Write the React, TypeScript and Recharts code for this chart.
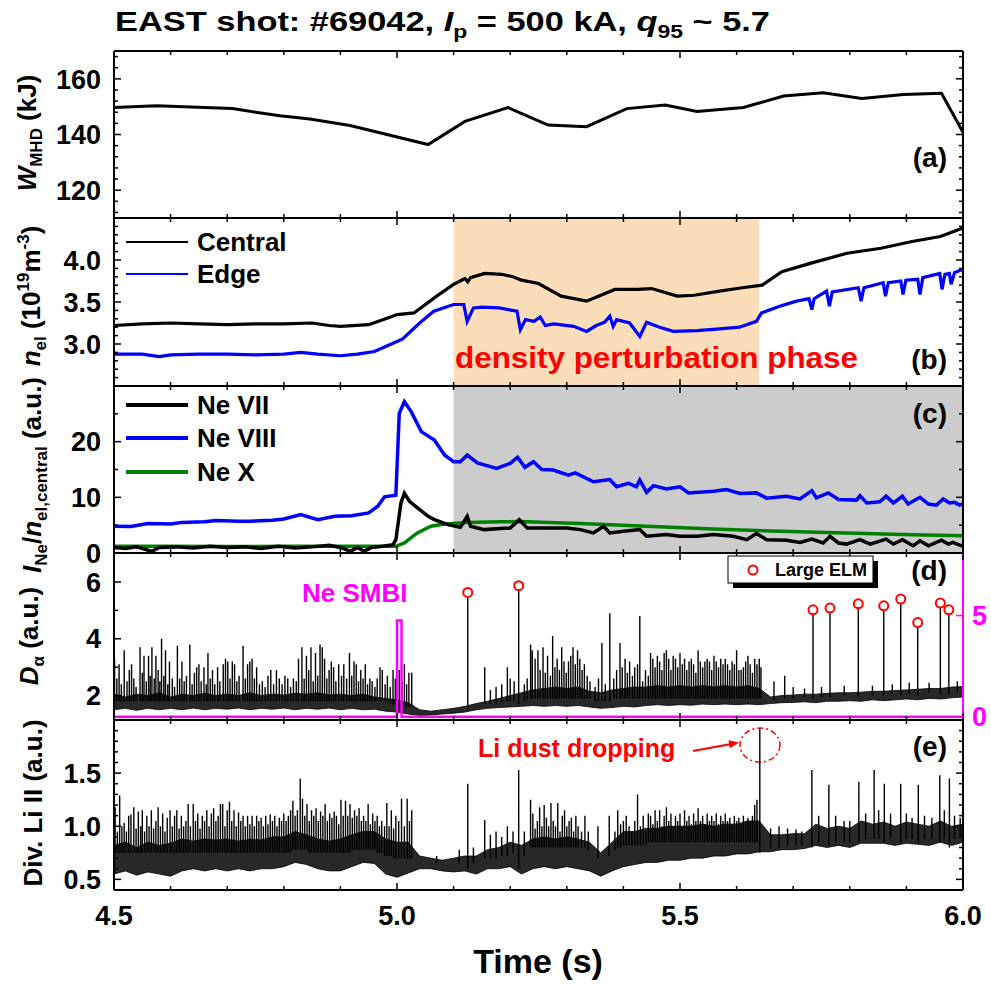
import React from 'react';
import { ComposedChart, Line, Area, XAxis, YAxis, ReferenceArea } from 'recharts';

const FONT = '"Liberation Sans", Arial, Helvetica, sans-serif';
const CW = 991;
const CH = 985;

// time axis
const xTicks = [4.5, 4.6, 4.7, 4.8, 4.9, 5.0, 5.1, 5.2, 5.3, 5.4, 5.5, 5.6, 5.7, 5.8, 5.9, 6.0];
const xMajors = [4.5, 5.0, 5.5, 6.0];

// (a) stored energy, kJ
const wmhd = [
  [4.5, 149.7], [4.575, 150.3], [4.709, 149.3], [4.793, 146.7], [4.846, 145.6], [4.917, 143.2],
  [5.055, 136.4], [5.12, 144.7], [5.196, 149.7], [5.267, 143.4], [5.335, 142.8], [5.406, 149.3],
  [5.474, 150.6], [5.53, 148.3], [5.612, 149.7], [5.683, 153.8], [5.753, 155.0], [5.821, 152.9],
  [5.895, 154.4], [5.962, 154.8], [6.0, 140.8],
];

// (b) line averaged density, 1e19 m^-3
const central = [
  [4.5, 3.22], [4.55, 3.24], [4.6, 3.25], [4.65, 3.24], [4.7, 3.23], [4.75, 3.24], [4.8, 3.24],
  [4.85, 3.25], [4.88, 3.22], [4.9, 3.21], [4.95, 3.23], [4.98, 3.3], [5.0, 3.35], [5.03, 3.37],
  [5.07, 3.57], [5.1, 3.71], [5.12, 3.78], [5.125, 3.74], [5.13, 3.79], [5.155, 3.84], [5.185, 3.83],
  [5.205, 3.8], [5.22, 3.76], [5.25, 3.72], [5.29, 3.57], [5.335, 3.51], [5.36, 3.58], [5.385, 3.65],
  [5.425, 3.65], [5.45, 3.66], [5.495, 3.57], [5.525, 3.58], [5.57, 3.63], [5.61, 3.67], [5.645, 3.7],
  [5.68, 3.86], [5.73, 3.96], [5.795, 4.08], [5.855, 4.14], [5.91, 4.22], [5.96, 4.28], [6.0, 4.38],
];
const edge = [
  [4.5, 2.88], [4.55, 2.88], [4.58, 2.85], [4.6, 2.87], [4.65, 2.88], [4.7, 2.88], [4.75, 2.87],
  [4.8, 2.88], [4.83, 2.9], [4.86, 2.88], [4.9, 2.86], [4.93, 2.88], [4.96, 2.91], [4.98, 2.97],
  [5.0, 3.03], [5.01, 3.06], [5.04, 3.25], [5.065, 3.39], [5.1, 3.47], [5.118, 3.47], [5.124, 3.27],
  [5.135, 3.43], [5.15, 3.44], [5.18, 3.43], [5.212, 3.39], [5.218, 3.17], [5.227, 3.29], [5.242, 3.27],
  [5.253, 3.32], [5.262, 3.22], [5.277, 3.24], [5.312, 3.21], [5.335, 3.15], [5.352, 3.22], [5.367, 3.26],
  [5.376, 3.33], [5.382, 3.21], [5.388, 3.29], [5.411, 3.25], [5.429, 3.09], [5.441, 3.26], [5.464, 3.2],
  [5.488, 3.15], [5.53, 3.16], [5.57, 3.18], [5.605, 3.2], [5.635, 3.27], [5.644, 3.37], [5.676, 3.45],
  [5.706, 3.51], [5.728, 3.54], [5.733, 3.41], [5.737, 3.54], [5.759, 3.63], [5.764, 3.45], [5.769, 3.62],
  [5.815, 3.67], [5.82, 3.51], [5.825, 3.67], [5.859, 3.73], [5.863, 3.57], [5.868, 3.73], [5.89, 3.75],
  [5.894, 3.59], [5.899, 3.76], [5.92, 3.77], [5.924, 3.59], [5.929, 3.79], [5.959, 3.84], [5.963, 3.65],
  [5.968, 3.83], [5.976, 3.84], [5.979, 3.71], [5.985, 3.85], [6.0, 3.89],
];

// (c) Ne line emission normalised by central density
const ne7 = [
  [4.5, 1.0], [4.52, 0.8], [4.54, 1.1], [4.567, 0.3], [4.58, 1.0], [4.61, 1.1], [4.64, 0.9], [4.67, 1.2],
  [4.7, 1.0], [4.73, 1.1], [4.76, 0.8], [4.79, 1.2], [4.82, 0.9], [4.85, 1.1], [4.88, 1.4], [4.9, 1.0],
  [4.918, 0.3], [4.93, 1.0], [4.942, 0.3], [4.955, 1.0], [4.975, 1.2], [4.993, 1.5], [4.998, 2.4],
  [5.007, 9.0], [5.013, 10.75], [5.022, 9.3], [5.034, 8.3], [5.055, 6.6], [5.066, 6.0], [5.09, 5.1],
  [5.112, 4.6], [5.124, 6.6], [5.13, 4.8], [5.154, 4.2], [5.183, 4.4], [5.2, 4.5], [5.216, 6.0],
  [5.23, 4.5], [5.265, 4.5], [5.3, 4.5], [5.324, 4.2], [5.347, 3.6], [5.365, 4.8], [5.376, 3.6],
  [5.4, 3.9], [5.429, 4.2], [5.441, 3.0], [5.476, 3.3], [5.5, 3.0], [5.53, 3.0], [5.559, 3.3],
  [5.594, 3.0], [5.618, 2.4], [5.635, 3.5], [5.653, 2.4], [5.688, 2.3], [5.712, 1.9], [5.733, 2.5],
  [5.753, 1.8], [5.765, 3.0], [5.78, 1.8], [5.794, 1.6], [5.818, 2.4], [5.836, 1.6], [5.864, 2.5],
  [5.877, 1.6], [5.893, 2.4], [5.912, 1.3], [5.924, 2.2], [5.939, 1.3], [5.962, 2.3], [5.974, 1.6],
  [5.982, 1.9], [5.997, 1.3], [6.0, 1.4],
];
const ne8 = [
  [4.5, 4.8], [4.53, 4.77], [4.56, 5.3], [4.6, 5.2], [4.62, 5.5], [4.66, 5.6], [4.68, 5.85], [4.72, 5.7],
  [4.74, 5.7], [4.78, 5.9], [4.8, 6.1], [4.83, 6.9], [4.86, 6.0], [4.89, 6.6], [4.92, 6.7], [4.95, 7.2],
  [4.966, 8.4], [4.978, 10.1], [4.998, 10.4], [5.004, 25.1], [5.013, 27.2], [5.025, 25.4], [5.043, 21.8],
  [5.066, 20.3], [5.084, 17.6], [5.1, 16.4], [5.112, 16.4], [5.124, 17.6], [5.142, 16.2], [5.159, 15.7],
  [5.176, 15.2], [5.2, 16.1], [5.213, 17.2], [5.226, 15.4], [5.241, 16.4], [5.256, 15.0], [5.276, 14.9],
  [5.303, 14.0], [5.315, 14.4], [5.347, 12.8], [5.376, 13.2], [5.388, 11.9], [5.409, 12.5], [5.423, 11.9],
  [5.429, 13.1], [5.441, 10.9], [5.453, 12.1], [5.476, 11.5], [5.5, 11.9], [5.515, 10.8], [5.559, 11.1],
  [5.582, 11.4], [5.606, 10.7], [5.635, 10.8], [5.653, 9.85], [5.688, 10.2], [5.712, 9.7], [5.733, 11.2],
  [5.741, 9.9], [5.762, 10.8], [5.78, 9.6], [5.812, 9.5], [5.818, 10.3], [5.83, 9.0], [5.853, 9.2],
  [5.864, 10.2], [5.877, 9.0], [5.893, 10.2], [5.903, 8.8], [5.924, 10.0], [5.939, 8.8], [5.953, 8.6],
  [5.965, 9.7], [5.976, 9.0], [5.985, 9.1], [5.994, 8.6], [6.0, 8.8],
];
const ne10 = [
  [4.5, 1.2], [4.6, 1.2], [4.7, 1.15], [4.8, 1.2], [4.9, 1.2], [4.998, 1.2], [5.013, 1.8], [5.036, 3.6],
  [5.06, 4.8], [5.084, 5.2], [5.124, 5.5], [5.183, 5.6], [5.216, 5.67], [5.324, 5.3], [5.441, 4.8],
  [5.559, 4.3], [5.676, 3.9], [5.794, 3.6], [5.912, 3.3], [6.0, 3.1],
];

// dense background of the fast signals: low / high envelope every 20 ms
const bandTimes = [
  4.5, 4.52, 4.54, 4.56, 4.58, 4.6, 4.62, 4.64, 4.66, 4.68, 4.7, 4.72, 4.74, 4.76, 4.78, 4.8,
  4.82, 4.84, 4.86, 4.88, 4.9, 4.92, 4.94, 4.96, 4.98, 5.0, 5.02, 5.04, 5.06, 5.08, 5.1, 5.12,
  5.14, 5.16, 5.18, 5.2, 5.22, 5.24, 5.26, 5.28, 5.3, 5.32, 5.34, 5.36, 5.38, 5.4, 5.42, 5.44,
  5.46, 5.48, 5.5, 5.52, 5.54, 5.56, 5.58, 5.6, 5.62, 5.64, 5.66, 5.68, 5.7, 5.72, 5.74, 5.76,
  5.78, 5.8, 5.82, 5.84, 5.86, 5.88, 5.9, 5.92, 5.94, 5.96, 5.98, 6.0,
];
const dAlphaLo = [
  1.5, 1.55, 1.48, 1.55, 1.5, 1.55, 1.5, 1.56, 1.5, 1.55, 1.52, 1.56, 1.5, 1.55, 1.52, 1.56,
  1.5, 1.55, 1.52, 1.56, 1.5, 1.55, 1.5, 1.52, 1.45, 1.42, 1.35, 1.3, 1.32, 1.35, 1.38, 1.42,
  1.5, 1.55, 1.58, 1.6, 1.62, 1.65, 1.62, 1.65, 1.62, 1.65, 1.6, 1.55, 1.58, 1.62, 1.6, 1.65,
  1.68, 1.65, 1.68, 1.66, 1.7, 1.68, 1.7, 1.68, 1.7, 1.68, 1.72, 1.75, 1.76, 1.78, 1.75, 1.8,
  1.8, 1.82, 1.8, 1.85, 1.82, 1.85, 1.88, 1.85, 1.9, 1.88, 1.92, 1.95,
];
const dAlphaHi = [
  2.05, 1.95, 2.05, 2.0, 2.1, 1.95, 2.05, 2.0, 2.08, 2.0, 2.05, 2.0, 2.1, 2.0, 2.05, 2.02,
  2.08, 2.05, 2.1, 2.02, 2.05, 2.0, 2.05, 1.95, 1.9, 1.85, 1.75, 1.5, 1.45, 1.5, 1.55, 1.62,
  1.72, 1.8, 1.9, 2.0, 2.1, 2.2, 2.25, 2.3, 2.25, 2.3, 2.15, 2.1, 2.2, 2.25, 2.3, 2.3,
  2.35, 2.3, 2.35, 2.3, 2.35, 2.3, 2.35, 2.3, 2.35, 2.25, 1.95, 2.0, 2.02, 2.05, 2.05, 2.08,
  2.1, 2.1, 2.12, 2.15, 2.15, 2.18, 2.2, 2.22, 2.25, 2.25, 2.3, 2.32,
];
const liLo = [
  0.55, 0.58, 0.54, 0.57, 0.55, 0.53, 0.58, 0.6, 0.58, 0.6, 0.58, 0.6, 0.58, 0.6, 0.6, 0.62,
  0.66, 0.64, 0.6, 0.58, 0.58, 0.62, 0.66, 0.65, 0.55, 0.52, 0.56, 0.6, 0.6, 0.58, 0.57, 0.58,
  0.55, 0.6, 0.6, 0.62, 0.55, 0.6, 0.62, 0.6, 0.62, 0.6, 0.58, 0.53, 0.58, 0.62, 0.64, 0.66,
  0.66, 0.68, 0.68, 0.7, 0.7, 0.72, 0.72, 0.74, 0.74, 0.76, 0.76, 0.78, 0.78, 0.79, 0.82, 0.8,
  0.82, 0.8, 0.84, 0.84, 0.84, 0.82, 0.84, 0.83, 0.82, 0.85, 0.82, 0.85,
];
const liHi = [
  0.82, 0.85, 0.8, 0.85, 0.82, 0.84, 0.88, 0.86, 0.88, 0.87, 0.88, 0.86, 0.88, 0.87, 0.9, 0.9,
  0.95, 0.92, 0.88, 0.86, 0.88, 0.92, 0.95, 0.95, 0.88, 0.85, 0.85, 0.72, 0.7, 0.68, 0.7, 0.72,
  0.72, 0.78, 0.8, 0.85, 0.82, 0.88, 0.9, 0.88, 0.9, 0.88, 0.85, 0.75, 0.85, 0.95, 0.95, 0.98,
  0.98, 1.0, 1.0, 1.0, 1.02, 1.0, 1.02, 1.02, 1.05, 1.05, 0.92, 0.92, 0.93, 0.93, 1.02, 0.98,
  1.0, 0.98, 1.05, 1.02, 1.04, 1.0, 1.04, 1.02, 1.0, 1.05, 1.0, 1.02,
];

// spikes of the fast signals: [time, base, peak]
const dAlphaSpikes = [
  [4.501, 1.8, 3.3], [4.505, 1.8, 2.6], [4.509, 1.8, 3.1], [4.513, 1.8, 2.4], [4.518, 1.8, 3.6],
  [4.523, 1.8, 2.5], [4.527, 1.8, 2.9], [4.531, 1.8, 3.1], [4.535, 1.8, 2.6], [4.539, 1.8, 2.3],
  [4.546, 1.8, 3.7], [4.55, 1.8, 2.8], [4.553, 1.8, 3.4], [4.557, 1.8, 2.5], [4.561, 1.8, 3.4],
  [4.564, 1.8, 2.7], [4.567, 1.8, 3.7], [4.571, 1.8, 2.6], [4.574, 1.8, 3.4], [4.578, 1.8, 2.9],
  [4.581, 1.8, 2.5], [4.584, 1.8, 4.0], [4.588, 1.8, 2.7], [4.591, 1.8, 3.6], [4.595, 1.8, 2.4],
  [4.598, 1.8, 3.2], [4.603, 1.8, 2.6], [4.607, 1.8, 2.3], [4.612, 1.8, 3.75], [4.616, 1.8, 2.6],
  [4.62, 1.8, 3.2], [4.624, 1.8, 2.5], [4.628, 1.8, 2.7], [4.634, 1.8, 3.8], [4.638, 1.8, 2.4],
  [4.642, 1.8, 2.8], [4.646, 1.8, 3.0], [4.65, 1.8, 3.1], [4.654, 1.8, 2.5], [4.659, 1.8, 3.0],
  [4.663, 1.8, 2.4], [4.666, 1.8, 3.5], [4.67, 1.8, 2.6], [4.674, 1.8, 2.9], [4.678, 1.8, 2.4],
  [4.683, 1.8, 3.0], [4.687, 1.8, 2.5], [4.693, 1.8, 3.1], [4.697, 1.8, 3.3], [4.701, 1.8, 3.2],
  [4.705, 1.8, 2.6], [4.709, 1.8, 3.2], [4.713, 1.8, 3.1], [4.717, 1.8, 2.5], [4.721, 1.8, 2.7],
  [4.728, 1.8, 3.75], [4.732, 1.8, 2.6], [4.736, 1.8, 3.1], [4.74, 1.8, 3.2], [4.744, 1.8, 3.3],
  [4.748, 1.8, 2.6], [4.752, 1.8, 3.0], [4.757, 1.8, 2.4], [4.762, 1.8, 2.5], [4.767, 1.8, 2.3],
  [4.772, 1.8, 2.7], [4.777, 1.8, 2.9], [4.782, 1.8, 2.4], [4.787, 1.8, 2.9], [4.792, 1.8, 2.6],
  [4.797, 1.8, 2.4], [4.802, 1.8, 2.7], [4.807, 1.8, 2.6], [4.812, 1.8, 2.3], [4.817, 1.8, 2.6],
  [4.822, 1.8, 2.5], [4.826, 1.8, 3.3], [4.832, 1.8, 3.7], [4.836, 1.8, 2.6], [4.84, 1.8, 3.4],
  [4.844, 1.8, 2.9], [4.848, 1.8, 3.7], [4.852, 1.8, 2.5], [4.856, 1.8, 3.5], [4.86, 1.8, 2.7],
  [4.864, 1.8, 3.8], [4.868, 1.8, 3.7], [4.872, 1.8, 3.3], [4.876, 1.8, 2.6], [4.88, 1.8, 2.9],
  [4.884, 1.8, 3.2], [4.888, 1.8, 3.0], [4.892, 1.8, 2.5], [4.897, 1.8, 3.1], [4.902, 1.8, 2.7],
  [4.906, 1.8, 3.1], [4.911, 1.8, 2.6], [4.916, 1.8, 3.5], [4.92, 1.8, 2.7], [4.924, 1.8, 3.2],
  [4.928, 1.8, 3.1], [4.932, 1.8, 2.5], [4.936, 1.8, 2.9], [4.94, 1.8, 2.6], [4.944, 1.8, 3.1],
  [4.948, 1.8, 2.4], [4.952, 1.8, 2.6], [4.956, 1.8, 2.5], [4.961, 1.8, 2.3], [4.965, 1.8, 2.6],
  [4.97, 1.8, 3.0], [4.974, 1.8, 2.9], [4.979, 1.8, 2.4], [4.983, 1.8, 2.7], [4.988, 1.7, 2.3],
  [4.993, 1.7, 2.9], [4.997, 1.7, 2.6], [5.004, 1.6, 2.9], [5.009, 1.6, 2.5], [5.013, 1.6, 3.1],
  [5.017, 1.6, 2.4], [5.021, 1.6, 2.8], [5.026, 1.6, 2.8],
  [5.125, 1.5, 5.5], [5.155, 1.7, 3.0], [5.165, 1.7, 2.2], [5.175, 1.7, 2.3], [5.185, 1.75, 2.4],
  [5.195, 1.8, 3.0], [5.2, 1.8, 2.6], [5.207, 1.8, 2.5], [5.215, 1.7, 5.75], [5.225, 1.8, 2.4],
  [5.23, 1.85, 2.6], [5.236, 1.9, 3.8], [5.239, 1.9, 3.6], [5.244, 1.9, 3.3], [5.249, 1.9, 3.6],
  [5.253, 1.9, 2.9], [5.258, 1.9, 3.7], [5.262, 1.9, 2.8], [5.266, 1.9, 3.4], [5.271, 1.9, 2.7],
  [5.275, 1.9, 4.1], [5.279, 1.9, 3.0], [5.283, 1.9, 3.3], [5.287, 1.9, 2.9], [5.291, 1.9, 3.7],
  [5.295, 1.9, 3.2], [5.299, 1.9, 2.8], [5.303, 1.9, 3.2], [5.307, 1.9, 3.4], [5.311, 1.9, 3.7],
  [5.315, 1.9, 3.1], [5.319, 1.9, 3.6], [5.323, 1.9, 3.3], [5.327, 1.9, 2.9], [5.331, 1.9, 3.1],
  [5.336, 1.9, 2.7], [5.341, 1.9, 2.5], [5.35, 1.8, 2.3], [5.356, 1.8, 2.6], [5.362, 1.8, 3.85],
  [5.368, 1.8, 2.4], [5.376, 1.8, 4.9], [5.383, 1.9, 2.6], [5.388, 1.9, 2.9], [5.394, 1.9, 3.85],
  [5.398, 1.9, 3.0], [5.403, 1.9, 3.3], [5.407, 1.9, 2.8], [5.411, 1.9, 3.2], [5.416, 1.9, 2.7],
  [5.42, 1.9, 3.0], [5.425, 1.9, 3.1], [5.429, 1.9, 4.8], [5.434, 1.9, 2.5], [5.439, 1.9, 2.9],
  [5.444, 1.9, 2.7], [5.448, 1.9, 3.5], [5.452, 1.9, 3.3], [5.456, 1.9, 3.0], [5.46, 1.9, 3.4],
  [5.464, 1.9, 3.2], [5.468, 1.9, 2.9], [5.472, 1.9, 3.5], [5.476, 1.9, 3.6], [5.48, 1.9, 3.3],
  [5.484, 1.9, 2.9], [5.488, 1.9, 3.4], [5.492, 1.9, 3.3], [5.496, 1.9, 3.0], [5.5, 1.9, 3.5],
  [5.504, 1.9, 3.1], [5.508, 1.9, 3.3], [5.512, 1.9, 2.9], [5.516, 1.9, 3.2], [5.52, 1.9, 3.3],
  [5.524, 1.9, 3.1], [5.528, 1.9, 2.8], [5.532, 1.9, 3.6], [5.536, 1.9, 3.2], [5.54, 1.9, 3.0],
  [5.544, 1.9, 3.2], [5.548, 1.9, 3.3], [5.552, 1.9, 3.2], [5.556, 1.9, 2.9], [5.56, 1.9, 3.4],
  [5.564, 1.9, 3.2], [5.568, 1.9, 3.0], [5.572, 1.9, 3.3], [5.576, 1.9, 3.1], [5.58, 1.9, 3.3],
  [5.584, 1.9, 3.1], [5.588, 1.9, 2.9], [5.592, 1.9, 3.2], [5.596, 1.9, 3.1], [5.6, 1.9, 3.6],
  [5.604, 1.9, 2.9], [5.608, 1.9, 2.9], [5.612, 1.9, 3.0], [5.616, 1.9, 3.2], [5.62, 1.9, 3.4],
  [5.624, 1.9, 3.1], [5.628, 1.9, 2.8], [5.632, 1.9, 3.3], [5.636, 1.9, 3.1], [5.64, 1.9, 3.3],
  [5.643, 1.9, 3.0],
  [5.666, 1.85, 2.5], [5.685, 1.9, 2.7], [5.7, 1.9, 2.3], [5.72, 1.95, 2.25], [5.735, 1.9, 4.9],
  [5.75, 1.95, 2.3], [5.765, 1.95, 4.95], [5.79, 2.0, 2.35], [5.815, 1.95, 5.1], [5.84, 2.0, 2.35],
  [5.86, 2.0, 5.0], [5.875, 2.05, 2.4], [5.89, 2.0, 5.25], [5.905, 2.05, 2.45], [5.92, 2.0, 4.4],
  [5.94, 2.1, 2.45], [5.96, 2.05, 5.1], [5.975, 2.05, 4.85], [5.99, 2.15, 2.5],
];
const liSpikes = [
  [4.502, 0.75, 1.18], [4.506, 0.75, 0.95], [4.51, 0.75, 1.29], [4.514, 0.75, 1.0], [4.518, 0.75, 1.03],
  [4.522, 0.75, 0.95], [4.526, 0.75, 1.1], [4.53, 0.75, 1.11], [4.535, 0.75, 1.18], [4.539, 0.75, 0.98],
  [4.543, 0.75, 1.14], [4.547, 0.75, 1.0], [4.55, 0.75, 1.15], [4.554, 0.75, 0.95], [4.558, 0.75, 1.1],
  [4.562, 0.75, 1.0], [4.566, 0.75, 1.15], [4.57, 0.75, 0.98], [4.574, 0.75, 1.05], [4.578, 0.75, 1.18],
  [4.582, 0.75, 1.0], [4.586, 0.75, 1.12], [4.59, 0.75, 0.95], [4.594, 0.75, 1.08], [4.599, 0.75, 1.15],
  [4.603, 0.75, 1.0], [4.607, 0.75, 1.1], [4.611, 0.75, 1.15], [4.615, 0.75, 0.98], [4.619, 0.75, 1.1],
  [4.623, 0.75, 1.0], [4.627, 0.75, 1.05], [4.631, 0.75, 1.21], [4.635, 0.75, 1.0], [4.64, 0.75, 1.21],
  [4.644, 0.75, 1.05], [4.648, 0.75, 1.12], [4.652, 0.75, 0.98], [4.656, 0.75, 1.1], [4.66, 0.75, 1.05],
  [4.664, 0.75, 1.15], [4.668, 0.75, 1.0], [4.672, 0.75, 1.12], [4.676, 0.75, 1.17], [4.68, 0.75, 1.05],
  [4.684, 0.75, 1.1], [4.688, 0.75, 1.21], [4.692, 0.75, 1.21], [4.696, 0.75, 1.0], [4.7, 0.75, 1.15],
  [4.704, 0.75, 1.23], [4.708, 0.75, 1.05], [4.712, 0.75, 1.15], [4.716, 0.75, 1.0], [4.72, 0.75, 1.13],
  [4.724, 0.75, 1.05], [4.728, 0.75, 1.1], [4.732, 0.75, 1.0], [4.736, 0.75, 1.1], [4.74, 0.75, 1.02],
  [4.744, 0.75, 1.1], [4.748, 0.75, 1.0], [4.752, 0.75, 1.1], [4.756, 0.75, 1.05], [4.76, 0.75, 1.08],
  [4.764, 0.75, 1.0], [4.768, 0.75, 1.1], [4.772, 0.75, 1.02], [4.776, 0.75, 1.11], [4.78, 0.75, 1.05],
  [4.784, 0.75, 1.1], [4.788, 0.75, 1.0], [4.792, 0.75, 1.08], [4.796, 0.75, 1.05], [4.8, 0.75, 1.12],
  [4.804, 0.75, 1.05], [4.808, 0.75, 1.1], [4.812, 0.75, 1.15], [4.816, 0.78, 1.24], [4.82, 0.78, 1.1],
  [4.824, 0.78, 1.15], [4.829, 0.78, 1.45], [4.833, 0.78, 1.26], [4.837, 0.78, 1.1], [4.841, 0.78, 1.21],
  [4.845, 0.75, 1.05], [4.849, 0.75, 1.15], [4.853, 0.75, 1.1], [4.857, 0.75, 1.17], [4.861, 0.75, 1.05],
  [4.865, 0.75, 1.14], [4.869, 0.75, 1.1], [4.873, 0.75, 1.21], [4.877, 0.75, 1.05], [4.881, 0.75, 1.12],
  [4.885, 0.75, 1.08], [4.889, 0.75, 1.14], [4.893, 0.75, 1.1], [4.897, 0.75, 1.02], [4.901, 0.75, 1.25],
  [4.905, 0.75, 1.1], [4.909, 0.75, 1.24], [4.913, 0.75, 1.1], [4.917, 0.75, 1.21], [4.921, 0.78, 1.08],
  [4.925, 0.78, 1.15], [4.929, 0.78, 1.1], [4.933, 0.78, 1.17], [4.937, 0.78, 1.05], [4.941, 0.78, 1.1],
  [4.945, 0.78, 1.05], [4.949, 0.78, 1.21], [4.953, 0.78, 1.02], [4.957, 0.78, 1.12], [4.961, 0.78, 1.05],
  [4.965, 0.75, 1.1], [4.969, 0.75, 1.0], [4.973, 0.75, 1.05], [4.978, 0.72, 1.0], [4.982, 0.72, 1.22],
  [4.986, 0.72, 1.0], [4.99, 0.72, 1.15], [4.994, 0.7, 0.98], [4.998, 0.7, 1.1], [5.003, 0.7, 1.05],
  [5.008, 0.7, 1.26], [5.013, 0.7, 1.0], [5.018, 0.7, 1.26], [5.022, 0.7, 1.05], [5.026, 0.7, 1.15],
  [5.07, 0.65, 0.72], [5.11, 0.65, 0.78], [5.125, 0.6, 1.4], [5.135, 0.65, 0.8], [5.155, 0.7, 1.06],
  [5.165, 0.7, 0.92], [5.175, 0.7, 0.95], [5.185, 0.72, 0.9], [5.195, 0.72, 1.0], [5.205, 0.75, 0.95],
  [5.215, 0.6, 1.53], [5.225, 0.72, 0.95], [5.236, 0.8, 1.25], [5.24, 0.8, 1.12], [5.244, 0.8, 0.98],
  [5.248, 0.8, 1.05], [5.252, 0.8, 1.18], [5.256, 0.8, 1.0], [5.26, 0.8, 1.2], [5.264, 0.8, 1.08],
  [5.268, 0.8, 1.0], [5.272, 0.8, 1.22], [5.276, 0.8, 1.05], [5.28, 0.8, 1.0], [5.284, 0.8, 1.22],
  [5.288, 0.8, 0.95], [5.292, 0.8, 1.1], [5.296, 0.8, 1.15], [5.3, 0.8, 1.0], [5.304, 0.8, 1.05],
  [5.308, 0.8, 1.08], [5.312, 0.8, 0.95], [5.316, 0.8, 1.1], [5.32, 0.8, 1.0], [5.326, 0.8, 0.95],
  [5.332, 0.8, 1.1], [5.338, 0.78, 0.95], [5.355, 0.7, 1.0], [5.375, 0.72, 1.1], [5.385, 0.78, 0.95],
  [5.39, 0.8, 1.15], [5.395, 0.8, 1.02], [5.4, 0.82, 1.05], [5.405, 0.82, 1.1], [5.41, 0.82, 1.0],
  [5.415, 0.82, 0.95], [5.42, 0.82, 1.05], [5.425, 0.82, 1.3], [5.43, 0.82, 1.0], [5.435, 0.82, 1.1],
  [5.44, 0.82, 0.95], [5.444, 0.85, 1.12], [5.448, 0.85, 1.1], [5.452, 0.85, 1.02], [5.456, 0.85, 1.15],
  [5.46, 0.85, 1.05], [5.464, 0.85, 1.15], [5.468, 0.85, 1.0], [5.472, 0.85, 1.1], [5.476, 0.85, 1.18],
  [5.48, 0.85, 1.05], [5.484, 0.85, 1.12], [5.488, 0.85, 1.0], [5.492, 0.85, 1.1], [5.496, 0.85, 1.05],
  [5.5, 0.85, 1.12], [5.504, 0.85, 1.0], [5.508, 0.85, 1.15], [5.512, 0.85, 1.05], [5.516, 0.85, 1.1],
  [5.52, 0.85, 1.02], [5.524, 0.85, 1.12], [5.528, 0.85, 1.05], [5.532, 0.85, 1.17], [5.536, 0.85, 1.05],
  [5.54, 0.85, 1.1], [5.544, 0.85, 1.02], [5.548, 0.85, 1.12], [5.552, 0.85, 1.05], [5.556, 0.85, 1.1],
  [5.56, 0.85, 1.05], [5.564, 0.85, 1.12], [5.568, 0.85, 1.02], [5.572, 0.85, 1.1], [5.576, 0.85, 1.05],
  [5.58, 0.85, 1.12], [5.584, 0.85, 1.05], [5.588, 0.85, 1.08], [5.592, 0.85, 1.02], [5.596, 0.85, 1.1],
  [5.6, 0.85, 1.05], [5.604, 0.85, 1.08], [5.608, 0.85, 1.02], [5.612, 0.85, 1.1], [5.616, 0.85, 1.05],
  [5.62, 0.85, 1.08], [5.624, 0.85, 1.05], [5.628, 0.85, 1.1], [5.632, 0.85, 1.2], [5.636, 0.85, 1.25],
  [5.641, 0.75, 1.92], [5.66, 0.8, 0.98], [5.675, 0.8, 1.0], [5.69, 0.82, 0.98], [5.705, 0.82, 0.97],
  [5.715, 0.82, 0.95], [5.733, 0.8, 1.53], [5.745, 0.85, 1.1], [5.763, 0.82, 1.39], [5.775, 0.85, 1.1],
  [5.79, 0.85, 1.05], [5.8, 0.85, 1.05], [5.816, 0.85, 1.42], [5.828, 0.88, 1.12], [5.843, 0.88, 1.53],
  [5.851, 0.88, 1.15], [5.861, 0.85, 1.4], [5.872, 0.88, 1.12], [5.89, 0.85, 1.4], [5.9, 0.88, 1.12],
  [5.91, 0.88, 1.08], [5.921, 0.85, 1.39], [5.932, 0.88, 1.1], [5.945, 0.88, 1.08], [5.959, 0.85, 1.48],
  [5.967, 0.88, 1.15], [5.976, 0.8, 1.45], [5.985, 0.88, 1.1], [5.995, 0.9, 1.08],
];

// Ne SMBI valve signal (right axis of panel d)
const smbi = [[4.5, 0], [5.0, 0], [5.0, 4.75], [5.008, 4.75], [5.008, 0], [6.0, 0]];
// large ELM peaks
const largeElm = [
  [5.125, 5.63], [5.215, 5.87], [5.735, 5.02], [5.765, 5.08], [5.815, 5.23],
  [5.86, 5.16], [5.89, 5.4], [5.92, 4.57], [5.96, 5.26], [5.975, 5.02],
];

const pts = (arr: number[][]) => arr.map(([t, v]) => ({ t, v }));
const band = (lo: number[], hi: number[]) => bandTimes.map((t, i) => ({ t, band: [lo[i], hi[i]] }));
// each spike is its own vertical segment, separated by gaps
const spikes = (arr: number[][]) =>
  arr.flatMap(([t, base, peak]) => [
    { t, v: base },
    { t, v: peak },
    { t, v: null },
  ]);

const near = (v: number, list: number[]) => list.some((m) => Math.abs(m - v) < 1e-6);
const AXIS_LINE = { stroke: '#000', strokeWidth: 2 };

function yTick(side: 'left' | 'right', majors: number[], labels: boolean, color: string, fmt: (v: number) => string) {
  return (p: any) => {
    const v = p.payload.value;
    const major = near(v, majors);
    const len = major ? 7 : 4;
    const dir = side === 'left' ? 1 : -1;
    return (
      <g>
        <line x1={p.x} y1={p.y} x2={p.x + dir * len} y2={p.y} stroke={color} strokeWidth={1.5} />
        {labels && major ? (
          <text
            x={side === 'left' ? p.x - 13 : p.x + 9}
            y={p.y}
            dy="0.36em"
            textAnchor={side === 'left' ? 'end' : 'start'}
            fontFamily={FONT}
            fontWeight="bold"
            fontSize={27}
            fill={color}
          >
            {fmt(v)}
          </text>
        ) : null}
      </g>
    );
  };
}

function xTick(side: 'top' | 'bottom', labels: boolean) {
  return (p: any) => {
    const v = p.payload.value;
    const major = near(v, xMajors);
    const len = major ? 7 : 4;
    const dir = side === 'bottom' ? -1 : 1;
    return (
      <g>
        <line x1={p.x} y1={p.y} x2={p.x} y2={p.y + dir * len} stroke="#000" strokeWidth={1.5} />
        {labels && major ? (
          <text x={p.x} y={p.y + 25} dy="0.36em" textAnchor="middle" fontFamily={FONT} fontWeight="bold" fontSize={27}>
            {v.toFixed(1)}
          </text>
        ) : null}
      </g>
    );
  };
}

type RightAxis = { domain: number[]; ticks: number[]; majors: number[]; color: string; labels: boolean };

function Panel(props: {
  top: number;
  bottom: number;
  yDomain: number[];
  yTicks: number[];
  yMajors: number[];
  fmt: (v: number) => string;
  xLabels?: boolean;
  right?: RightAxis;
  children?: React.ReactNode;
}) {
  const { top, bottom, yDomain, yTicks, yMajors, fmt, xLabels = false, right, children } = props;
  const r = right ?? { domain: yDomain, ticks: yTicks, majors: yMajors, color: '#000', labels: false };
  return (
    <div style={{ position: 'absolute', left: 0, top: 0 }}>
      <ComposedChart width={CW} height={CH} margin={{ top: top - 10, bottom: CH - bottom - 10, left: 54, right: 8 }}>
        <XAxis
          xAxisId={0}
          dataKey="t"
          type="number"
          domain={[4.5, 6]}
          ticks={xTicks}
          interval={0}
          allowDataOverflow
          orientation="bottom"
          height={10}
          tickSize={0}
          tickMargin={0}
          tickLine={false}
          axisLine={AXIS_LINE}
          tick={xTick('bottom', xLabels)}
        />
        <XAxis
          xAxisId="top"
          dataKey="t"
          type="number"
          domain={[4.5, 6]}
          ticks={xTicks}
          interval={0}
          allowDataOverflow
          orientation="top"
          height={10}
          tickSize={0}
          tickMargin={0}
          tickLine={false}
          axisLine={AXIS_LINE}
          tick={xTick('top', false)}
        />
        <YAxis
          yAxisId={0}
          type="number"
          domain={yDomain}
          ticks={yTicks}
          interval={0}
          allowDataOverflow
          width={60}
          tickSize={0}
          tickMargin={0}
          tickLine={false}
          axisLine={AXIS_LINE}
          tick={yTick('left', yMajors, true, '#000', fmt)}
        />
        <YAxis
          yAxisId="r"
          orientation="right"
          type="number"
          domain={r.domain}
          ticks={r.ticks}
          interval={0}
          allowDataOverflow
          width={20}
          tickSize={0}
          tickMargin={0}
          tickLine={false}
          axisLine={{ stroke: r.color, strokeWidth: 2 }}
          tick={yTick('right', r.majors, r.labels, r.color, (v) => String(v))}
        />
        {children}
      </ComposedChart>
    </div>
  );
}

const txt = { fontFamily: FONT, fontWeight: 'bold' as const };

export default function App() {
  return (
    <div style={{ position: 'absolute', left: 0, top: 0, width: CW, height: CH, background: '#fff' }}>
      {/* (a) */}
      <Panel
        top={51}
        bottom={218}
        yDomain={[110, 170]}
        yTicks={[112, 116, 120, 124, 128, 132, 136, 140, 144, 148, 152, 156, 160, 164, 168]}
        yMajors={[120, 140, 160]}
        fmt={(v) => String(v)}
      >
        <Line data={pts(wmhd)} dataKey="v" stroke="#000" strokeWidth={3} dot={false} isAnimationActive={false} />
      </Panel>

      {/* (b) */}
      <Panel
        top={218}
        bottom={386}
        yDomain={[2.5, 4.5]}
        yTicks={[2.6, 2.7, 2.8, 2.9, 3.0, 3.1, 3.2, 3.3, 3.4, 3.5, 3.6, 3.7, 3.8, 3.9, 4.0, 4.1, 4.2, 4.3, 4.4]}
        yMajors={[3.0, 3.5, 4.0]}
        fmt={(v) => v.toFixed(1)}
      >
        <ReferenceArea x1={5.1} x2={5.64} fill="#FCDDB9" fillOpacity={1} stroke="none" />
        <Line data={pts(central)} dataKey="v" stroke="#000" strokeWidth={3.2} dot={false} isAnimationActive={false} />
        <Line data={pts(edge)} dataKey="v" stroke="#0000FF" strokeWidth={3.2} dot={false} isAnimationActive={false} />
      </Panel>

      {/* (c) */}
      <Panel
        top={386}
        bottom={553}
        yDomain={[0, 30]}
        yTicks={[0, 5, 10, 15, 20, 25]}
        yMajors={[0, 10, 20]}
        fmt={(v) => String(v)}
      >
        <ReferenceArea x1={5.1} x2={6.0} fill="#CCCCCC" fillOpacity={1} stroke="none" />
        <Line data={pts(ne10)} dataKey="v" stroke="#008000" strokeWidth={3.5} dot={false} isAnimationActive={false} />
        <Line data={pts(ne7)} dataKey="v" stroke="#000" strokeWidth={3.5} dot={false} isAnimationActive={false} />
        <Line data={pts(ne8)} dataKey="v" stroke="#0000FF" strokeWidth={3.5} dot={false} isAnimationActive={false} />
      </Panel>

      {/* (d) */}
      <Panel
        top={553}
        bottom={720}
        yDomain={[1.14, 7.02]}
        yTicks={[2, 3, 4, 5, 6]}
        yMajors={[2, 4, 6]}
        fmt={(v) => String(v)}
        right={{ domain: [-0.16, 8.09], ticks: [0, 5], majors: [0, 5], color: '#FF00FF', labels: true }}
      >
        <Area data={band(dAlphaLo, dAlphaHi)} dataKey="band" type="linear" stroke="#000" strokeWidth={0.8} fill="#111" fillOpacity={0.9} isAnimationActive={false} />
        <Line data={spikes(dAlphaSpikes)} dataKey="v" stroke="#000" strokeWidth={1.4} dot={false} connectNulls={false} isAnimationActive={false} />
        <Line data={pts(smbi)} yAxisId="r" dataKey="v" stroke="#FF00FF" strokeWidth={2.5} dot={false} isAnimationActive={false} />
        <Line
          data={pts(largeElm)}
          dataKey="v"
          stroke="none"
          dot={{ r: 4.5, stroke: '#FF0000', strokeWidth: 2, fill: 'none' }}
          isAnimationActive={false}
        />
      </Panel>

      {/* (e) with all annotations on top */}
      <Panel
        top={720}
        bottom={890}
        yDomain={[0.4, 2.0]}
        yTicks={[0.5, 0.6, 0.7, 0.8, 0.9, 1.0, 1.1, 1.2, 1.3, 1.4, 1.5, 1.6, 1.7, 1.8, 1.9]}
        yMajors={[0.5, 1.0, 1.5]}
        fmt={(v) => v.toFixed(1)}
        xLabels
      >
        <Area data={band(liLo, liHi)} dataKey="band" type="linear" stroke="#000" strokeWidth={0.8} fill="#111" fillOpacity={0.9} isAnimationActive={false} />
        <Line data={spikes(liSpikes)} dataKey="v" stroke="#000" strokeWidth={1.4} dot={false} connectNulls={false} isAnimationActive={false} />

        {/* title */}
        <text x={115} y={31} fontSize={27} textLength={655} lengthAdjust="spacingAndGlyphs" {...txt}>
          EAST shot: #69042, <tspan fontStyle="italic">I</tspan>
          <tspan fontSize={18} dy={7}>p</tspan>
          <tspan dy={-7}> = 500 kA, </tspan>
          <tspan fontStyle="italic">q</tspan>
          <tspan fontSize={18} dy={7}>95</tspan>
          <tspan dy={-7}> ~ 5.7</tspan>
        </text>

        {/* y labels */}
        <text transform="translate(36,133) rotate(-90)" textAnchor="middle" fontSize={26} {...txt}>
          <tspan fontStyle="italic">W</tspan>
          <tspan fontSize={17} dy={6}>MHD</tspan>
          <tspan dy={-6}> (kJ)</tspan>
        </text>
        <text transform="translate(40,296) rotate(-90)" textAnchor="middle" fontSize={26} {...txt}>
          <tspan fontStyle="italic">n</tspan>
          <tspan fontSize={17} dy={6}>el</tspan>
          <tspan dy={-6}> (10</tspan>
          <tspan fontSize={17} dy={-11}>19</tspan>
          <tspan dy={11}>m</tspan>
          <tspan fontSize={17} dy={-11}>-3</tspan>
          <tspan dy={11}>)</tspan>
        </text>
        <text transform="translate(41,475) rotate(-90)" textAnchor="middle" fontSize={26} {...txt}>
          <tspan fontStyle="italic">I</tspan>
          <tspan fontSize={17} dy={6}>Ne</tspan>
          <tspan dy={-6}>/</tspan>
          <tspan fontStyle="italic">n</tspan>
          <tspan fontSize={17} dy={6}>el,central</tspan>
          <tspan dy={-6}> (a.u.)</tspan>
        </text>
        <text transform="translate(38,636) rotate(-90)" textAnchor="middle" fontSize={26} {...txt}>
          <tspan fontStyle="italic">D</tspan>
          <tspan fontSize={17} dy={6}>α</tspan>
          <tspan dy={-6}> (a.u.)</tspan>
        </text>
        <text transform="translate(42,803) rotate(-90)" textAnchor="middle" fontSize={26} {...txt}>
          Div. Li II (a.u.)
        </text>

        {/* x label */}
        <text x={538} y={973} textAnchor="middle" fontSize={34} {...txt}>
          Time (s)
        </text>

        {/* panel tags */}
        <text x={947} y={157} dy="0.36em" textAnchor="end" fontSize={28} {...txt}>(a)</text>
        <text x={947} y={359} dy="0.36em" textAnchor="end" fontSize={28} {...txt}>(b)</text>
        <text x={947} y={413} dy="0.36em" textAnchor="end" fontSize={28} {...txt}>(c)</text>
        <text x={947} y={570} dy="0.36em" textAnchor="end" fontSize={28} {...txt}>(d)</text>
        <text x={947} y={746} dy="0.36em" textAnchor="end" fontSize={28} {...txt}>(e)</text>

        {/* legend (b) */}
        <line x1={126} x2={188} y1={242} y2={242} stroke="#000" strokeWidth={2} />
        <text x={197} y={242} dy="0.36em" fontSize={26} {...txt}>Central</text>
        <line x1={126} x2={188} y1={274} y2={274} stroke="#0000FF" strokeWidth={2} />
        <text x={197} y={274} dy="0.36em" fontSize={26} {...txt}>Edge</text>

        {/* phase label */}
        <text x={455} y={357} dy="0.36em" fontSize={30} fill="#FF0000" textLength={403} lengthAdjust="spacingAndGlyphs" {...txt}>
          density perturbation phase
        </text>

        {/* legend (c) */}
        <line x1={126} x2={188} y1={405} y2={405} stroke="#000" strokeWidth={4} />
        <text x={197} y={405} dy="0.36em" fontSize={26} {...txt}>Ne VII</text>
        <line x1={126} x2={188} y1={438} y2={438} stroke="#0000FF" strokeWidth={4} />
        <text x={197} y={438} dy="0.36em" fontSize={26} {...txt}>Ne VIII</text>
        <line x1={126} x2={188} y1={472} y2={472} stroke="#008000" strokeWidth={4} />
        <text x={197} y={472} dy="0.36em" fontSize={26} {...txt}>Ne X</text>

        {/* (d) annotations */}
        <text x={302} y={593} dy="0.36em" fontSize={26} fill="#FF00FF" {...txt}>Ne SMBI</text>
        <rect x={733} y={561} width={145} height={27} fill="#000" />
        <rect x={728} y={556} width={145} height={27} fill="#fff" stroke="#000" strokeWidth={1} />
        <circle cx={753} cy={570} r={4.5} fill="none" stroke="#FF0000" strokeWidth={2} />
        <text x={775} y={570} dy="0.36em" fontSize={18} {...txt}>Large ELM</text>

        {/* (e) annotations */}
        <text x={478} y={748} dy="0.36em" fontSize={25} fill="#FF0000" {...txt}>Li dust dropping</text>
        <line x1={693} y1={751} x2={731} y2={744} stroke="#FF0000" strokeWidth={2} />
        <polygon points="739,742.5 729.9,748.2 728.5,740.3" fill="#FF0000" />
        <ellipse cx={760} cy={745} rx={20} ry={17} fill="none" stroke="#FF0000" strokeWidth={1.5} strokeDasharray="6 3 2 3" />
      </Panel>
    </div>
  );
}
